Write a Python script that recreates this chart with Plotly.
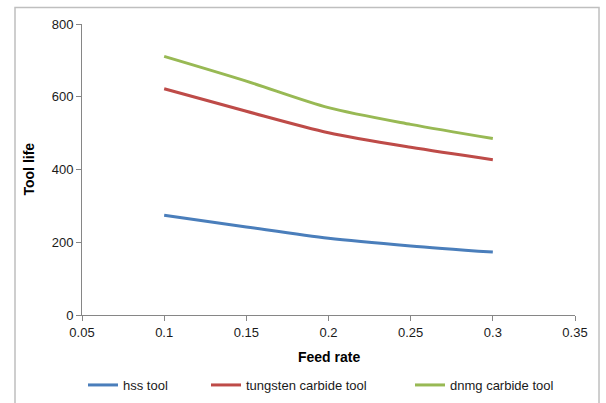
import plotly.graph_objects as go

feed_rate = [0.1, 0.15, 0.2, 0.25, 0.3]
hss_tool = [274, 242, 211, 190, 173]
tungsten_carbide_tool = [622, 560, 501, 461, 427]
dnmg_carbide_tool = [711, 643, 570, 524, 485]

x_ticks = [0.05, 0.1, 0.15, 0.2, 0.25, 0.3, 0.35]
x_tick_labels = ["0.05", "0.1", "0.15", "0.2", "0.25", "0.3", "0.35"]
y_ticks = [0, 200, 400, 600, 800]

FONT = "Liberation Sans"
W, H = 606, 403

fig = go.Figure()
series = [
    ("hss tool", hss_tool, "#4A7EBB", "legend", 83),
    ("tungsten carbide tool", tungsten_carbide_tool, "#BE4B48", "legend2", 206),
    ("dnmg carbide tool", dnmg_carbide_tool, "#98B954", "legend3", 410),
]
for name, vals, col, lg, _ in series:
    fig.add_trace(go.Scatter(
        x=feed_rate, y=vals, name=name, mode="lines", legend=lg,
        line=dict(color=col, width=3, shape="spline", smoothing=0.8),
    ))

axis_common = dict(
    showgrid=False, zeroline=False, showline=True, linecolor="#868686",
    linewidth=1, ticks="outside", ticklen=5, tickcolor="#868686", automargin=False,
    tickfont=dict(family=FONT, size=13, color="#1a1a1a"),
)
fig.update_xaxes(range=[0.05, 0.35], tickvals=x_ticks, ticktext=x_tick_labels, **axis_common)
fig.update_yaxes(range=[0, 800], tickvals=y_ticks, **axis_common)

legend_common = dict(orientation="h", yref="container", y=1 - 385 / H, yanchor="middle",
                     xref="container", xanchor="left",
                     font=dict(family=FONT, size=13, color="#1a1a1a"),
                     bgcolor="rgba(0,0,0,0)")
legends = {}
for i, (_, _, _, lg, px) in enumerate(series):
    legends[lg] = dict(x=px / W, **legend_common)

fig.update_layout(
    width=W, height=H,
    margin=dict(l=82, r=31, t=24, b=88),
    paper_bgcolor="white", plot_bgcolor="white",
    showlegend=True,
    **legends,
    annotations=[
        dict(text="<b>Feed rate</b>", xref="paper", yref="paper", x=0.5, y=-0.144,
             showarrow=False, xanchor="center", yanchor="middle",
             font=dict(family=FONT, size=14, color="black")),
        dict(text="<b>Tool life</b>", xref="paper", yref="paper", x=-0.1095, y=0.5,
             showarrow=False, xanchor="center", yanchor="middle", textangle=-90,
             font=dict(family=FONT, size=14, color="black")),
    ],
    shapes=[
        dict(type="rect", xref="paper", yref="paper", x0=-0.1359, x1=1.0487,
             y0=-0.33, y1=1.0566, line=dict(color="#BFBFBF", width=1.5), layer="below"),
    ],
)

fig.write_html("out.html", config={"displayModeBar": False},
               post_script="document.body.style.margin='0';")
